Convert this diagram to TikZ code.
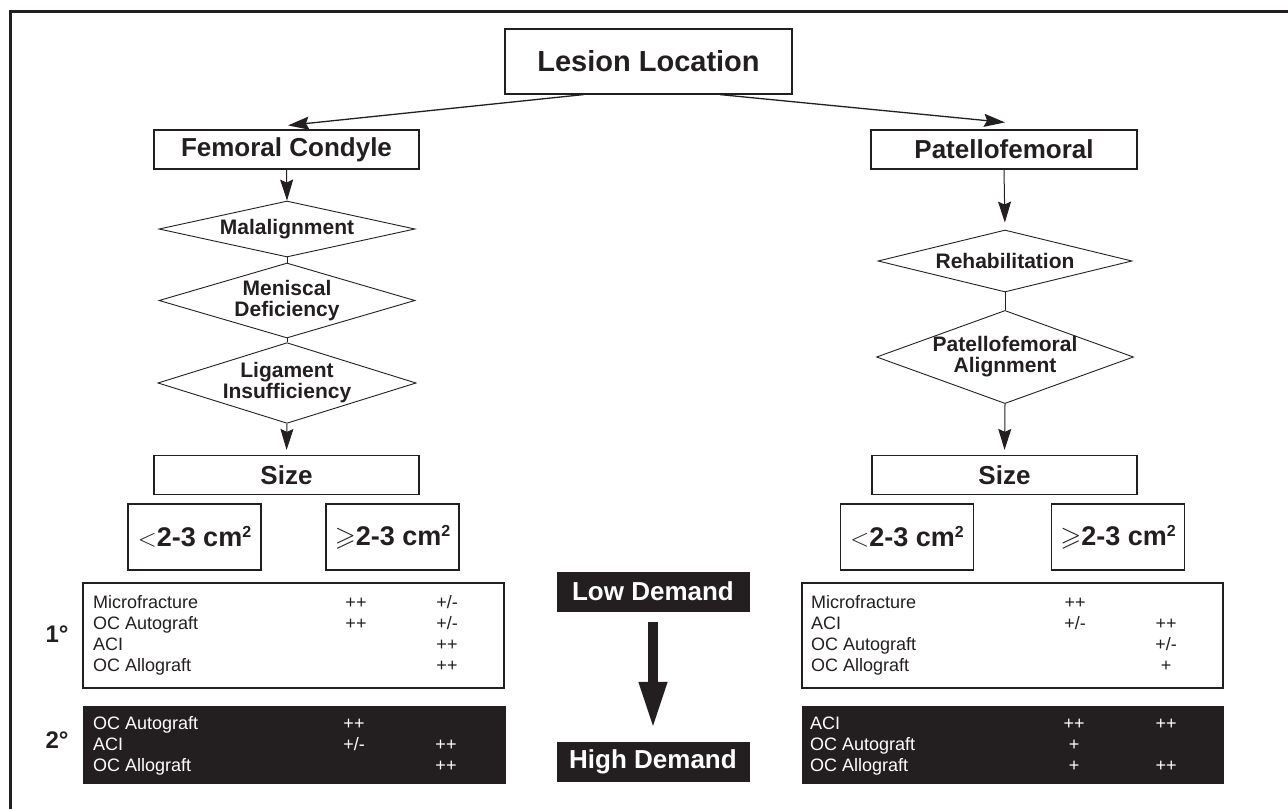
\documentclass[tikz,border=0pt]{standalone}
\usepackage{amssymb}
\usepackage{fontspec}
\setmainfont{Liberation Sans}
\usepackage{tikz}
\usetikzlibrary{arrows.meta, shapes.geometric}
\definecolor{ink}{HTML}{231F20}
\newcommand{\sqcm}{cm\raisebox{9pt}{\fontsize{16}{16}\selectfont 2}}

\begin{document}
\begin{tikzpicture}[x=1pt, y=-1pt, every node/.style={text=ink},
    box/.style={draw=ink, line width=1.2pt, minimum height=39pt, inner sep=0pt, font=\bfseries\fontsize{26}{28}\selectfont},
    dmd/.style={diamond, draw=ink, line width=0.9pt, inner sep=0pt, align=center, font=\bfseries\fontsize{21}{21}\selectfont},
    arr/.style={draw=ink, line width=1.3pt, -{Stealth[length=21pt, width=13pt, inset=3pt]}},
    row/.style={anchor=base west, inner sep=0pt, font=\fontsize{18}{21}\selectfont},
    val/.style={anchor=base, inner sep=0pt, font=\fontsize{18}{21}\selectfont},
    dark/.style={fill=ink, draw=ink, inner sep=0pt}]
      \useasboundingbox (0,0) rectangle (1288,809);
      \draw[ink, line width=3pt] (1288,11) -- (10,11) -- (10,809);

      \node[box, minimum width=287pt, minimum height=65pt, font=\bfseries\fontsize{29}{31}\selectfont] (lesion) at (648.5,61.5) {Lesion Location};
      \node[box, minimum width=265pt] (femoral) at (286.5,149.5) {Femoral Condyle};
      \node[box, minimum width=266pt] (patello) at (1004,149.5) {Patellofemoral};

      \node[dmd, minimum width=256pt, minimum height=56pt, aspect=4.6] (malalign) at (287,229) {Malalignment};
      \node[dmd, minimum width=256pt, minimum height=75pt, aspect=3.4] (menisc) at (287,300.5) {Meniscal\\Deficiency};
      \node[dmd, minimum width=256pt, minimum height=80pt, aspect=3.2] (ligam) at (287,383) {Ligament\\Insufficiency};
      \node[dmd, minimum width=254pt, minimum height=62pt, aspect=4.1] (rehab) at (1005,261) {Rehabilitation};
      \node[dmd, minimum width=254pt, minimum height=92pt, aspect=2.76] (pfalign) at (1005,357) {Patellofemoral\\Alignment};

      \node[box, minimum width=265pt] (sizeL) at (286.5,475) {Size};
      \node[box, minimum width=265pt] (sizeR) at (1004.5,475) {Size};
      \foreach \x/\n/\t in {194.5/ltL/{$<$2-3 \sqcm}, 392.5/geL/{$\geqslant$2-3 \sqcm}, 907/ltR/{$<$2-3 \sqcm}, 1118/geR/{$\geqslant$2-3 \sqcm}} {
        \node[box, minimum width=133pt, minimum height=66pt, font=\bfseries\fontsize{27}{29}\selectfont] (\n) at (\x,537) {\t};
      }

      \draw[arr] ([xshift=-65pt]lesion.south) -- ([xshift=1.5pt, yshift=4pt]femoral.north);
      \draw[arr] ([xshift=71.5pt]lesion.south) -- ([xshift=1pt, yshift=7pt]patello.north);
      \draw[arr, line width=1pt] (femoral.south) -- (malalign.north);
      \draw[ink, line width=0.9pt] (malalign.south) -- (menisc.north);
      \draw[ink, line width=0.9pt] (menisc.south) -- (ligam.north);
      \draw[arr, line width=1pt, shorten >=5pt] (ligam.south) -- (sizeL.north);
      \draw[arr, line width=1pt, shorten >=7pt] (patello.south) -- (rehab.north);
      \draw[ink, line width=0.9pt] (rehab.south) -- (pfalign.north);
      \draw[arr, line width=1pt, shorten >=5pt] (pfalign.south) -- (sizeR.north);

      \node[draw=ink, line width=1.2pt, minimum width=421pt, minimum height=105pt, inner sep=0pt] (firstL) at (293.5,635.5) {};
      \node[dark, minimum width=422pt, minimum height=77pt] (secondL) at (294,744.5) {};
      \node[draw=ink, line width=1.2pt, minimum width=421pt, minimum height=105pt, inner sep=0pt] (firstR) at (1012.5,635.5) {};
      \node[dark, minimum width=421pt, minimum height=77pt] (secondR) at (1012.5,744.5) {};
      \node[anchor=base, inner sep=0pt, font=\bfseries\fontsize{24}{24}\selectfont] (prim) at (57,642) {1°};
      \node[anchor=base, inner sep=0pt, font=\bfseries\fontsize{24}{24}\selectfont] (sec) at (57,748) {2°};

      \foreach \y/\t/\a/\b in {608/Microfracture/{++}/{+/-}, 629/OC Autograft/{++}/{+/-}, 650/ACI/{}/{++}, 671/OC Allograft/{}/{++}} {
        \node[row] (l\y) at (93,\y) {\t};
        \node[val] (la\y) at (356,\y) {\a};
        \node[val] (lb\y) at (447,\y) {\b};
      }
      \foreach \y/\t/\a/\b in {729/OC Autograft/{++}/{}, 750/ACI/{+/-}/{++}, 771/OC Allograft/{}/{++}} {
        \node[row, text=white] (m\y) at (93,\y) {\t};
        \node[val, text=white] (ma\y) at (354,\y) {\a};
        \node[val, text=white] (mb\y) at (446,\y) {\b};
      }
      \foreach \y/\t/\a/\b in {608/Microfracture/{++}/{}, 629/ACI/{+/-}/{++}, 650/OC Autograft/{}/{+/-}, 671/OC Allograft/{}/{+}} {
        \node[row] (r\y) at (811,\y) {\t};
        \node[val] (ra\y) at (1075,\y) {\a};
        \node[val] (rb\y) at (1166,\y) {\b};
      }
      \foreach \y/\t/\a/\b in {729/ACI/{++}/{++}, 750/OC Autograft/{+}/{}, 771/OC Allograft/{+}/{++}} {
        \node[row, text=white] (s\y) at (810,\y) {\t};
        \node[val, text=white] (sa\y) at (1074,\y) {\a};
        \node[val, text=white] (sb\y) at (1166,\y) {\b};
      }

      \node[dark, minimum width=192pt, minimum height=39pt, text=white, font=\bfseries\fontsize{26}{26}\selectfont] (low) at (653,591.5) {Low Demand};
      \node[dark, minimum width=192pt, minimum height=39pt, text=white, font=\bfseries\fontsize{26}{26}\selectfont] (high) at (653,761.5) {High Demand};
      \draw[ink, line width=10pt, -{Triangle[width=26pt, length=47pt]}, shorten <=11pt, shorten >=13pt] (low) -- (high);
    \end{tikzpicture}
\end{document}
